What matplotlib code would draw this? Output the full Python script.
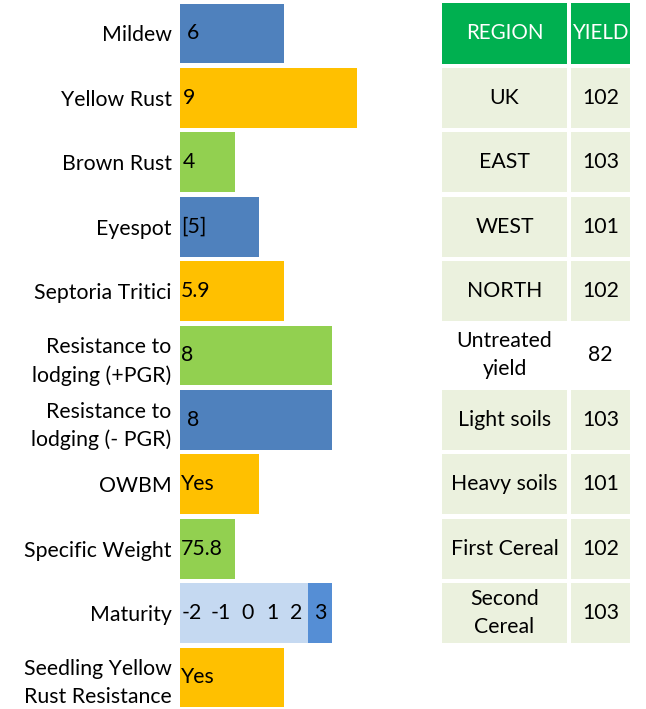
import matplotlib
matplotlib.use("Agg")
import matplotlib.pyplot as plt
from matplotlib.patches import Rectangle

plt.rcParams['font.family'] = ['Lato', 'DejaVu Sans']

# ---- data ----
traits = ["Mildew", "Yellow Rust", "Brown Rust", "Eyespot", "Septoria Tritici",
          "Resistance to\nlodging (+PGR)", "Resistance to\nlodging (- PGR)", "OWBM",
          "Specific Weight", "Maturity", "Seedling Yellow\nRust Resistance"]
bar_scores = [6, 9, 4, 5, 6, 8, 8, 5, 4, 8, 6]
bar_labels = ["6", "9", "4", "[5]", "5.9", "8", "8", "Yes", "75.8", "", "Yes"]
bar_colors = ["#4F81BD", "#FFC000", "#92D050", "#4F81BD", "#FFC000", "#92D050",
              "#4F81BD", "#FFC000", "#92D050", "#C5D9F1", "#FFC000"]
maturity_scale = [-2, -1, 0, 1, 2, 3]
maturity_value = 3

regions = ["UK", "EAST", "WEST", "NORTH", "Untreated\nyield", "Light soils",
           "Heavy soils", "First Cereal", "Second Cereal"]
region_labels = ["UK", "EAST", "WEST", "NORTH", "Untreated\nyield", "Light soils",
                 "Heavy soils", "First Cereal", "Second\nCereal"]
yields = [102, 103, 101, 102, 82, 103, 101, 102, 103]
table_header = ["REGION", "YIELD"]

W, H = 646, 709
fig = plt.figure(figsize=(W / 100, H / 100), dpi=100)

FS = 15.3
y_top, y_bot = -0.52, 10.49

# ---- bar axes ----
x0_px = 180
unit_px = 24.3
xmin = 1.73
ax_w_px = 420 - x0_px
ax = fig.add_axes([x0_px / W, 0, ax_w_px / W, 1])
ax.set_xlim(xmin, xmin + ax_w_px / unit_px)
ax.set_ylim(y_bot, y_top)
ypos = list(range(len(traits)))
ax.barh(ypos, bar_scores, height=0.93, color=bar_colors, left=0)

# maturity highlighted segment
mi = traits.index("Maturity")
ax.barh(mi, 1, left=bar_scores[mi] - 1, height=0.93, color="#558ED5")
# maturity scale labels
scale_x = [2.22, 3.42, 4.49, 5.52, 6.5, 7.49]
for sx, v in zip(scale_x, maturity_scale):
    ax.text(sx, mi, str(v), ha="center", va="center", fontsize=FS, color="black")

label_off = [0.28, 0.12, 0.12, 0.05, 0.05, 0.05, 0.3, 0.05, 0.05, 0, 0.05]
for i, lab in enumerate(bar_labels):
    if lab:
        ax.text(xmin + label_off[i], i, lab, ha="left", va="center", fontsize=FS,
                color="black")

ax.set_yticks(ypos)
ax.set_yticklabels(traits, fontsize=FS)
for t in ax.get_yticklabels():
    t.set_linespacing(1.5)
ax.tick_params(axis="y", length=0, pad=6)
ax.set_xticks([])
for s in ax.spines.values():
    s.set_visible(False)
ax.patch.set_alpha(0)

# ---- table axes ----
tx0, tx1 = 442, 630
tax = fig.add_axes([tx0 / W, 0, (tx1 - tx0) / W, 1])
tax.set_xlim(tx0, tx1)
tax.set_ylim(y_bot, y_top)
tax.axis("off")
col_spans = [(442, 567), (571, 630)]
hh = 0.935
for c, (a, b) in enumerate(col_spans):
    tax.add_patch(Rectangle((a, -hh / 2), b - a, hh, color="#00B050", lw=0))
    tax.text((a + b) / 2, 0, table_header[c], ha="center", va="center",
             fontsize=FS - 0.5, color="white")
for r, (lab, yv) in enumerate(zip(region_labels, yields)):
    yc = r + 1
    face = "white" if regions[r].startswith("Untreated") else "#EBF1DE"
    for c, (a, b) in enumerate(col_spans):
        tax.add_patch(Rectangle((a, yc - hh / 2), b - a, hh, color=face, lw=0))
    tax.text(sum(col_spans[0]) / 2, yc, lab, ha="center", va="center",
             fontsize=FS, color="black", linespacing=1.5)
    tax.text(sum(col_spans[1]) / 2, yc, str(yv), ha="center", va="center",
             fontsize=FS, color="black")

fig.savefig("out.png", dpi=100)
